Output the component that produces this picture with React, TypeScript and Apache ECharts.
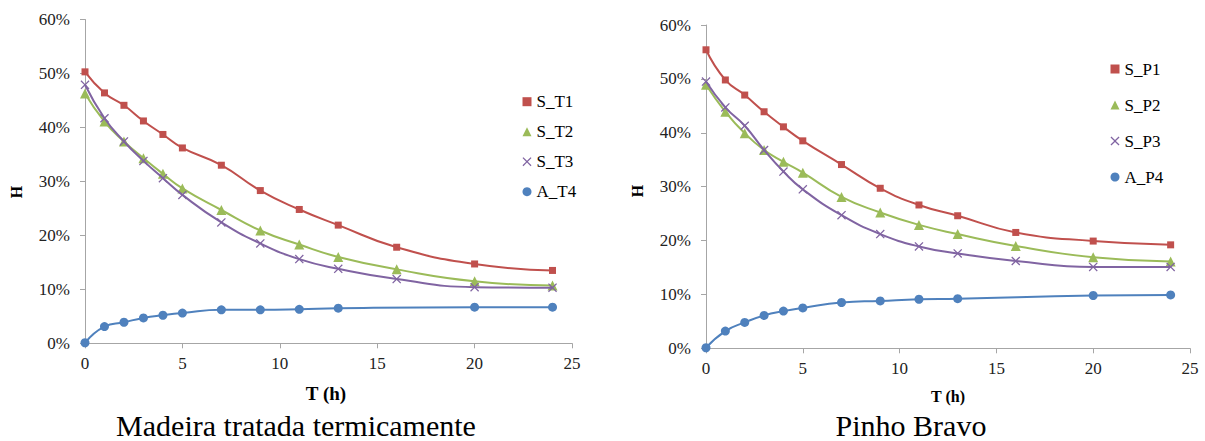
import React, { useEffect, useRef } from "react";
import * as echarts from "echarts";

// time points (h)
const tS = [0, 1, 2, 3, 4, 5, 7, 9, 11, 13, 16, 20, 24];
const tA = [0, 1, 2, 3, 4, 5, 7, 9, 11, 13, 20, 24];

// Madeira tratada termicamente (%)
const S_T1 = [50.3, 46.4, 44.1, 41.2, 38.7, 36.2, 33.0, 28.3, 24.8, 21.9, 17.8, 14.7, 13.5];
const S_T2 = [46.3, 41.1, 37.4, 34.3, 31.4, 28.7, 24.7, 20.9, 18.3, 16.0, 13.7, 11.5, 10.7];
const S_T3 = [47.9, 41.7, 37.4, 33.8, 30.6, 27.5, 22.4, 18.5, 15.6, 13.8, 11.9, 10.4, 10.3];
const A_T4 = [0.1, 3.1, 3.9, 4.7, 5.2, 5.6, 6.2, 6.2, 6.3, 6.5, 6.7, 6.7];

// Pinho Bravo (%)
const S_P1 = [55.4, 49.8, 47.0, 43.9, 41.1, 38.5, 34.1, 29.7, 26.6, 24.6, 21.5, 19.9, 19.2];
const S_P2 = [48.9, 43.9, 39.9, 36.8, 34.6, 32.6, 28.1, 25.2, 22.9, 21.2, 19.0, 16.9, 16.1];
const S_P3 = [49.5, 44.7, 41.3, 36.8, 32.8, 29.5, 24.7, 21.2, 18.9, 17.6, 16.2, 15.1, 15.1];
const A_P4 = [0.1, 3.2, 4.8, 6.1, 6.9, 7.5, 8.5, 8.8, 9.1, 9.2, 9.8, 9.9];

const leftNames = ["S_T1", "S_T2", "S_T3", "A_T4"];
const rightNames = ["S_P1", "S_P2", "S_P3", "A_P4"];
const subtitles = ["Madeira tratada termicamente", "Pinho Bravo"];

const FONT = '"Liberation Serif", "Times New Roman", serif';
const RED = "#c0504d";
const GREEN = "#9bbb59";
const PURPLE = "#8064a2";
const BLUE = "#4f81bd";
const AXIS = "#a6a6a6";
const X_PATH = "path://M0,1L1,0L5,4L9,0L10,1L6,5L10,9L9,10L5,6L1,10L0,9L4,5Z";

const styles = [
  { color: RED, symbol: "rect", size: 7 },
  { color: GREEN, symbol: "triangle", size: 10 },
  { color: PURPLE, symbol: X_PATH, size: 9 },
  { color: BLUE, symbol: "circle", size: 9 },
];
const legendIcons = ["rect", "triangle", X_PATH, "circle"];

function mk(name: string, xs: number[], ys: number[], gi: number, si: number) {
  const s = styles[si];
  return {
    name,
    type: "line",
    xAxisIndex: gi,
    yAxisIndex: gi,
    data: xs.map((x, i) => [x, ys[i]]),
    smooth: 0.5,
    symbol: s.symbol,
    symbolSize: s.size,
    showSymbol: true,
    color: s.color,
    itemStyle: { color: s.color },
    lineStyle: { color: s.color, width: 2 },
    z: 3 + si,
  };
}

const labelFont = { fontFamily: FONT, fontSize: 17, color: "#222" };

function xAxis(gi: number) {
  return {
    type: "value",
    gridIndex: gi,
    min: 0,
    max: 25,
    interval: 5,
    axisLine: { show: true, lineStyle: { color: AXIS, width: 1 } },
    axisTick: { show: true, length: 5, lineStyle: { color: AXIS } },
    splitLine: { show: false },
    axisLabel: { ...labelFont, margin: 12 },
  };
}
function yAxis(gi: number) {
  return {
    type: "value",
    gridIndex: gi,
    min: 0,
    max: 60,
    interval: 10,
    axisLine: { show: true, lineStyle: { color: AXIS, width: 1 } },
    axisTick: { show: true, length: 5, lineStyle: { color: AXIS } },
    splitLine: { show: false },
    axisLabel: { ...labelFont, margin: 15, formatter: (v: number) => v + "%" },
  };
}

function legend(names: string[], left: number, top: number, gap: number) {
  return {
    orient: "vertical",
    left,
    top,
    padding: 0,
    itemWidth: 9,
    itemHeight: 9,
    itemGap: gap,
    selectedMode: false,
    textStyle: { fontFamily: FONT, fontSize: 17, lineHeight: 20, color: "#000" },
    data: names.map((n, i) => ({ name: n, icon: legendIcons[i] })),
  };
}

export default function App() {
  const ref = useRef<HTMLDivElement>(null);
  useEffect(() => {
    document.body.style.margin = "0";
    const chart = echarts.init(ref.current!, null, { renderer: "svg" });
    chart.setOption({
      animation: false,
      backgroundColor: "#ffffff",
      textStyle: { fontFamily: FONT },
      grid: [
        { left: 85, top: 19.5, width: 487, height: 323.8 },
        { left: 706, top: 25, width: 484, height: 323.3 },
      ],
      xAxis: [xAxis(0), xAxis(1)],
      yAxis: [yAxis(0), yAxis(1)],
      legend: [legend(leftNames, 522.5, 91.7, 10), legend(rightNames, 1110.5, 59, 16)],
      series: [
        mk(leftNames[0], tS, S_T1, 0, 0),
        mk(leftNames[1], tS, S_T2, 0, 1),
        mk(leftNames[2], tS, S_T3, 0, 2),
        mk(leftNames[3], tA, A_T4, 0, 3),
        mk(rightNames[0], tS, S_P1, 1, 0),
        mk(rightNames[1], tS, S_P2, 1, 1),
        mk(rightNames[2], tS, S_P3, 1, 2),
        mk(rightNames[3], tA, A_P4, 1, 3),
      ],
      graphic: [
        {
          type: "text", x: 16, y: 192, rotation: Math.PI / 2,
          style: { text: "H", font: `bold 16px ${FONT}`, fill: "#000", textAlign: "center", textVerticalAlign: "middle" },
        },
        {
          type: "text", x: 637, y: 191, rotation: Math.PI / 2,
          style: { text: "H", font: `bold 16px ${FONT}`, fill: "#000", textAlign: "center", textVerticalAlign: "middle" },
        },
        {
          type: "text", x: 326, y: 393,
          style: { text: "T (h)", font: `bold 19px ${FONT}`, fill: "#000", textAlign: "center", textVerticalAlign: "middle" },
        },
        {
          type: "text", x: 948, y: 396,
          style: { text: "T (h)", font: `bold 16px ${FONT}`, fill: "#000", textAlign: "center", textVerticalAlign: "middle" },
        },
        {
          type: "text", x: 296, y: 425,
          style: { text: subtitles[0], font: `30px ${FONT}`, fill: "#000", textAlign: "center", textVerticalAlign: "middle" },
        },
        {
          type: "text", x: 911, y: 425,
          style: { text: subtitles[1], font: `30px ${FONT}`, fill: "#000", textAlign: "center", textVerticalAlign: "middle" },
        },
      ],
    });
    return () => chart.dispose();
  }, []);
  return <div ref={ref} style={{ width: 1205, height: 441 }} />;
}
